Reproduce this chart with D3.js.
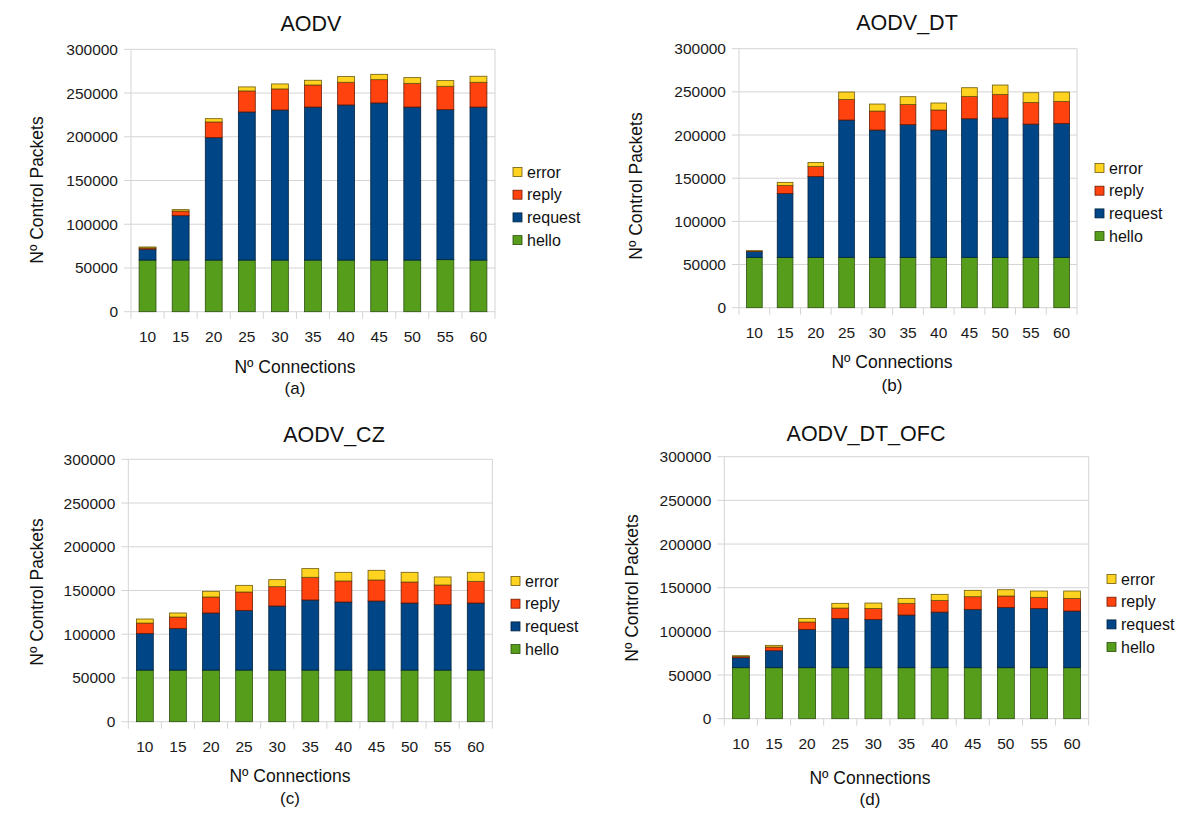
<!DOCTYPE html>
<html>
<head>
<meta charset="utf-8">
<script src="https://cdn.jsdelivr.net/npm/d3@7"></script>
<style>
  html, body { margin: 0; padding: 0; background: #fff; }
  svg { display: block; font-family: "Liberation Sans", Arial, sans-serif; }
</style>
</head>
<body>
<svg id="chart" width="1200" height="834"></svg>
<script>
// ---------- DATA ----------
const categories = ["10", "15", "20", "25", "30", "35", "40", "45", "50", "55", "60"];
const seriesNames = ["hello", "request", "reply", "error"];
const legendOrder = ["error", "reply", "request", "hello"];
const yTicks = [0, 50000, 100000, 150000, 200000, 250000, 300000];
const panelTitles = ["AODV", "AODV_DT", "AODV_CZ", "AODV_DT_OFC"];
const panelLetters = ["(a)", "(b)", "(c)", "(d)"];
const xAxisTitle = "Nº Connections";
const yAxisTitle = "Nº Control Packets";

// AODV (a)
const aodvHello   = [59000, 59000, 59000, 59000, 59000, 59000, 59000, 59000, 59000, 59500, 59000];
const aodvRequest = [12500, 50800, 140000, 169400, 171700, 175000, 177400, 179700, 175000, 171500, 175000];
const aodvReply   = [1300, 5300, 17900, 24000, 24000, 25200, 25900, 26600, 27100, 26700, 28300];
const aodvError   = [1200, 1600, 3800, 4600, 5700, 5400, 6500, 6100, 6500, 6500, 6900];

// AODV_DT (b)
const dtHello   = [58300, 58300, 58300, 58300, 58300, 58300, 58300, 58300, 58300, 58300, 58300];
const dtRequest = [7000, 74100, 93800, 159100, 147500, 153700, 147500, 160600, 161400, 154400, 155200];
const dtReply   = [400, 9300, 11600, 23900, 22000, 23500, 23200, 25900, 27400, 25100, 25500];
const dtError   = [200, 3500, 4600, 8500, 8100, 8900, 8100, 10000, 10800, 11200, 10800];

// AODV_CZ (c)
const czHello   = [59000, 59000, 59000, 59000, 59000, 59000, 59000, 59000, 59000, 59000, 59000];
const czRequest = [42000, 47700, 65300, 68300, 73300, 80200, 77900, 79000, 76700, 74800, 76700];
const czReply   = [11800, 13000, 18300, 21000, 22100, 25900, 24000, 24000, 24000, 22500, 24800];
const czError   = [4600, 4600, 6500, 7600, 8000, 9900, 9900, 11100, 11100, 9200, 10300];

// AODV_DT_OFC (d)
const ofcHello   = [58400, 58400, 58400, 58400, 58400, 58400, 58400, 58400, 58400, 58400, 58400];
const ofcRequest = [11400, 19500, 43900, 56500, 55300, 60300, 63700, 66800, 69100, 67900, 64900];
const ofcReply   = [1600, 4200, 8400, 11800, 12600, 13400, 13400, 14500, 13000, 12700, 14500];
const ofcError   = [700, 1900, 4200, 5400, 6100, 5700, 6900, 7300, 7200, 7200, 8400];

// ---------- STYLE ----------
const colors = { hello: "#579d1c", request: "#004586", reply: "#ff420e", error: "#ffd320" };
const strokes = { hello: "#2c4f0e", request: "#00223f", reply: "#6b1a04", error: "#6b5a0a" };

const panelSeries = [
  { hello: aodvHello, request: aodvRequest, reply: aodvReply, error: aodvError },
  { hello: dtHello, request: dtRequest, reply: dtReply, error: dtError },
  { hello: czHello, request: czRequest, reply: czReply, error: czError },
  { hello: ofcHello, request: ofcRequest, reply: ofcReply, error: ofcError }
];

// layout (pixel positions)
const layouts = [
  { plot: [131, 495, 49.3, 311.7], title: [311, 31], ytitle: [37, 190], tickY: 336, xtitle: [295, 367], sub: [295, 388], legend: [513, 172] },
  { plot: [739, 1077, 48.7, 307.7], title: [907, 30], ytitle: [636, 186], tickY: 332, xtitle: [892, 362], sub: [892, 385], legend: [1095, 168] },
  { plot: [128.3, 492.3, 459.3, 721.7], title: [334, 442], ytitle: [37, 592], tickY: 746, xtitle: [290, 776], sub: [290, 798], legend: [511, 581] },
  { plot: [724.3, 1088.7, 456.7, 718.7], title: [866, 441], ytitle: [632, 588], tickY: 743, xtitle: [870, 778], sub: [870, 799], legend: [1107, 579] }
];

const svg = d3.select("#chart");

function drawPanel(idx) {
  const L = layouts[idx];
  const S = panelSeries[idx];
  const [x0, x1, yTop, yBot] = L.plot;
  const g = svg.append("g");

  const x = d3.scaleBand().domain(categories).range([x0, x1]).paddingInner(0.49).paddingOuter(0.245);
  const y = d3.scaleLinear().domain([0, 300000]).range([yBot, yTop]);

  // gridlines
  g.append("g").selectAll("line").data(yTicks).join("line")
    .attr("x1", x0 - 7).attr("x2", x1)
    .attr("y1", d => y(d)).attr("y2", d => y(d))
    .attr("stroke", "#d4d4d4").attr("stroke-width", 1);
  // vertical borders
  g.append("line").attr("x1", x0).attr("x2", x0).attr("y1", yTop).attr("y2", yBot + 7)
    .attr("stroke", "#d4d4d4");
  g.append("line").attr("x1", x1).attr("x2", x1).attr("y1", yTop).attr("y2", yBot + 7)
    .attr("stroke", "#d4d4d4");
  // x ticks at category boundaries
  const step = x.step();
  g.append("g").selectAll("line").data(categories.slice(1)).join("line")
    .attr("x1", (d, i) => x0 + (i + 1) * step).attr("x2", (d, i) => x0 + (i + 1) * step)
    .attr("y1", yBot).attr("y2", yBot + 7)
    .attr("stroke", "#d4d4d4");

  // y tick labels
  g.append("g").selectAll("text").data(yTicks).join("text")
    .attr("x", x0 - 13).attr("y", d => y(d))
    .attr("text-anchor", "end").attr("dominant-baseline", "central")
    .attr("font-size", 15.5).attr("fill", "#1a1a1a")
    .text(d => d3.format("d")(d));

  // x tick labels
  g.append("g").selectAll("text").data(categories).join("text")
    .attr("x", d => x(d) + x.bandwidth() / 2).attr("y", L.tickY)
    .attr("text-anchor", "middle").attr("dominant-baseline", "central")
    .attr("font-size", 15.5).attr("fill", "#1a1a1a")
    .text(d => d);

  // stacked bars
  const rows = categories.map((c, i) => {
    const r = { cat: c };
    seriesNames.forEach(s => r[s] = S[s][i]);
    return r;
  });
  const stacked = d3.stack().keys(seriesNames)(rows);
  g.append("g").selectAll("g").data(stacked).join("g")
    .attr("fill", d => colors[d.key]).attr("stroke", d => strokes[d.key])
    .attr("stroke-width", 0.8)
    .selectAll("rect").data(d => d).join("rect")
    .attr("x", d => x(d.data.cat)).attr("width", x.bandwidth())
    .attr("y", d => y(d[1])).attr("height", d => Math.max(0, y(d[0]) - y(d[1])));

  // title
  g.append("text").attr("x", L.title[0]).attr("y", L.title[1])
    .attr("text-anchor", "middle").attr("font-size", 21.5).attr("fill", "#111")
    .text(panelTitles[idx]);

  // y axis title
  g.append("text")
    .attr("transform", `translate(${L.ytitle[0]},${L.ytitle[1]}) rotate(-90)`)
    .attr("text-anchor", "middle").attr("dominant-baseline", "central")
    .attr("font-size", 17.5).attr("fill", "#111")
    .text(yAxisTitle);

  // x axis title and sub label
  g.append("text").attr("x", L.xtitle[0]).attr("y", L.xtitle[1])
    .attr("text-anchor", "middle").attr("dominant-baseline", "central")
    .attr("font-size", 17.5).attr("fill", "#111")
    .text(xAxisTitle);
  g.append("text").attr("x", L.sub[0]).attr("y", L.sub[1])
    .attr("text-anchor", "middle").attr("dominant-baseline", "central")
    .attr("font-size", 17).attr("fill", "#111")
    .text(panelLetters[idx]);

  // legend
  const lg = g.append("g").selectAll("g").data(legendOrder).join("g")
    .attr("transform", (d, i) => `translate(${L.legend[0]},${L.legend[1] + i * 22.7})`);
  lg.append("rect").attr("x", 0).attr("y", -4.5).attr("width", 9).attr("height", 9)
    .attr("fill", d => colors[d]).attr("stroke", d => strokes[d]).attr("stroke-width", 0.8);
  lg.append("text").attr("x", 14).attr("y", 0).attr("dominant-baseline", "central")
    .attr("font-size", 16).attr("fill", "#111").text(d => d);
}

for (let i = 0; i < 4; i++) drawPanel(i);
</script>
</body>
</html>
